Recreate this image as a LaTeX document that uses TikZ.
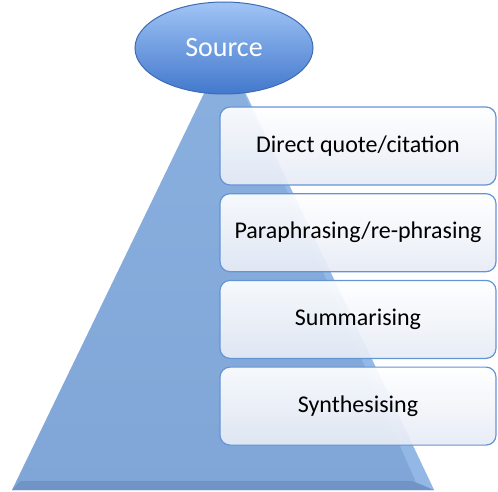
\documentclass[tikz,border=0pt]{standalone}
\usepackage{fontspec}
\setmainfont{Carlito}
\usepackage{tikz}
\usetikzlibrary{positioning,shapes.geometric,backgrounds,calc}
\definecolor{pyrfill}{RGB}{128,166,215}
\definecolor{pyrtop}{RGB}{138,176,224}
\definecolor{pyrdark}{RGB}{112,148,198}
\definecolor{pyrlight}{RGB}{160,196,240}
\definecolor{srctop}{RGB}{160,196,245}
\definecolor{srcbot}{RGB}{66,120,204}
\definecolor{srcline}{RGB}{62,108,180}
\definecolor{stageline}{RGB}{100,148,214}
\definecolor{stagebot}{RGB}{230,235,245}

\begin{document}
\begin{tikzpicture}[x=1pt,y=-1pt,
    src/.style={ellipse,draw=srcline,line width=1pt,top color=srctop,bottom color=srcbot,
                minimum width=178pt,minimum height=92pt,inner sep=0pt,text=white,
                font=\fontsize{28}{32}\selectfont},
    stage/.style={draw=stageline,line width=1.2pt,rounded corners=10pt,
                  top color=white,bottom color=stagebot,fill opacity=0.93,text opacity=1,
                  minimum width=276pt,minimum height=78pt,inner sep=0pt,
                  font=\fontsize{24}{28}\selectfont}
    ]
    \useasboundingbox (0,0) rectangle (498,492);
    \node[src] (source) at (224,48) {Source};
    \node[stage] (quote) at (358,146) {Direct quote/citation};
    \node[stage,below=7.5pt of quote] (para) {Paraphrasing/re-phrasing};
    \node[stage,below=7.5pt of para] (summ) {Summarising};
    \node[stage,below=7.5pt of summ] (synth) {Synthesising};

    % Background
    \begin{scope}[on background layer]
        \coordinate (apex) at (225,50);
        \coordinate (bl) at (12,490);
        \coordinate (br) at (434,490);
        \shade[top color=pyrtop,bottom color=pyrfill] (apex) -- (bl) -- (br) -- cycle;
        \fill[pyrlight,opacity=0.6] (apex) -- (br) -- ($(br)+(-18,-8)$) -- cycle;
        \fill[pyrdark] (bl) -- (br) -- ($(br)!0.02!(apex)+(-18,0)$) -- ($(bl)!0.02!(apex)+(4,0)$) -- cycle;
    \end{scope}
\end{tikzpicture}
\end{document}
